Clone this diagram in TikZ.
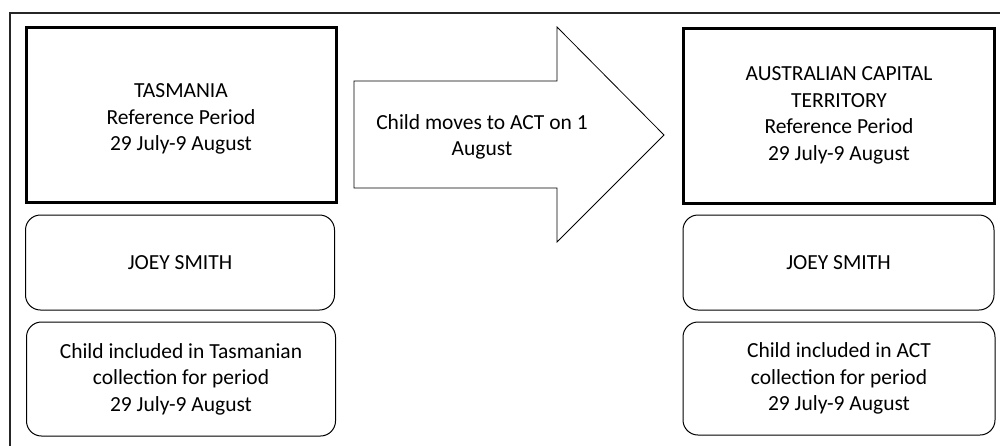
\documentclass[tikz,border=0pt]{standalone}
\usepackage{fontspec}
\setmainfont{Carlito}
\begin{document}
\begin{tikzpicture}[x=1pt,y=-1pt,
  every node/.style={font=\fontsize{21.5}{26.5}\selectfont, align=center, inner sep=0pt},
  statebox/.style={draw, line width=3pt, minimum width=310pt, minimum height=175pt},
  infobox/.style={draw, line width=1pt, rounded corners=15pt, minimum width=309pt},
  movearrow/.style={draw, line width=0.8pt, line join=miter}]
  \useasboundingbox (0,0) rectangle (1000,445);
  % outer frame, open to the right and below
  \draw[line width=1.6pt, black!85] (10,460) -- (10,13) -- (1010,13);

  % Tasmania column
  \node[statebox] (tas) at (181,115) {};
  \node (tastext) at ([yshift=-4pt]tas.center) {TASMANIA\\Reference Period\\29 July-9 August};
  \node[infobox, minimum height=95pt] (tasname) at (180,262.5) {JOEY SMITH};
  \node[infobox, minimum height=114pt] (tasinc) at (181,379) {Child included in Tasmanian\\collection for period\\29 July-9 August};

  % ACT column
  \node[statebox, minimum width=311pt] (act) at (839,115.5) {AUSTRALIAN CAPITAL\\TERRITORY\\Reference Period\\29 July-9 August};
  \node[infobox, minimum height=95pt, minimum width=311pt] (actname) at (838.5,262.5) {JOEY SMITH};
  \node[infobox, minimum height=113pt, minimum width=312pt] (actinc) at (839,378.5) {Child included in ACT\\collection for period\\29 July-9 August};

  % block arrow between the two reference periods
  \draw[movearrow] (354,81) -- (557,81) -- (557,27) -- (664,135) -- (557,242) -- (557,188) -- (354,188) -- cycle;
  \node (move) at (482,137) {Child moves to ACT on 1\\August};
\end{tikzpicture}
\end{document}
